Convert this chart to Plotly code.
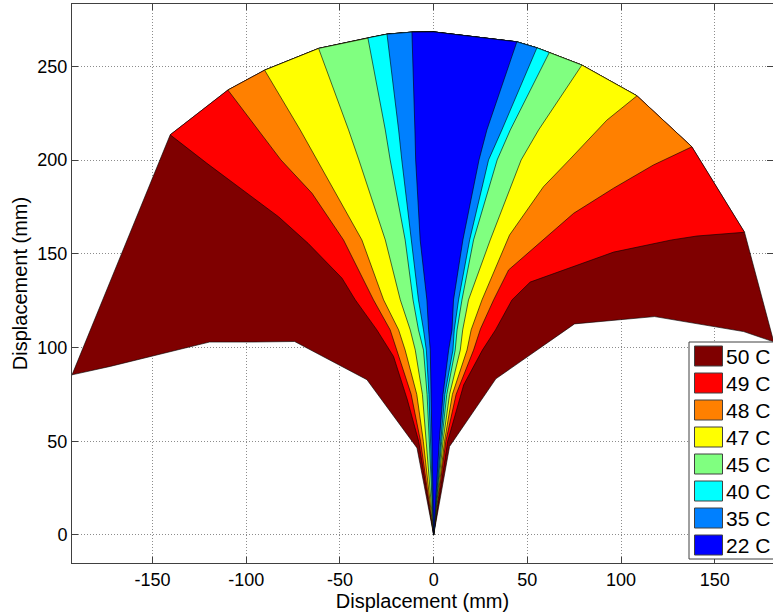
import plotly.graph_objects as go

# ---------------- data ----------------
levels = ["50 C", "49 C", "48 C", "47 C", "45 C", "40 C", "35 C", "22 C"]
colors = ["#7F0000", "#FF0000", "#FF8000", "#FFFF00", "#80FF80", "#00FFFF", "#0080FF", "#0000FF"]

# outer lower boundary of the whole fan
outer_left_x = [0, -8.9, -35.6, -74.2, -97.0, -119.6, -172.6, -193.0]
outer_left_y = [0, 46.4, 82.8, 103.2, 102.9, 102.9, 89.9, 85.4]
outer_right_x = [181.5, 165.4, 117.9, 75.2, 33.2, 8.5, 0]
outer_right_y = [103.0, 108.5, 116.5, 112.6, 83.3, 47.2, 0]
apex_x = 0.0
apex_y = 268.4

# left-side level boundaries (from the outer arc down to the origin)
L1_x = [-140.6, -121.0, -102.3, -82.8, -67.0, -48.9, -41.8, -30.3, -21.4, -14.0, -8.0, 0]
L1_y = [213.5, 198.3, 184.1, 169.8, 155.6, 137.0, 125.4, 109.4, 95.2, 72.0, 50.0, 0]
L2_x = [-109.8, -81.5, -64.9, -48.1, -42.7, -32.1, -23.2, -19.6, -12.0, -7.0, 0]
L2_y = [237.4, 200.1, 182.3, 157.4, 146.7, 125.4, 109.4, 98.6, 75.0, 50.0, 0]
L3_x = [-90.2, -71.2, -62.3, -38.3, -26.7, -18.7, -15.2, -9.0, -5.5, 0]
L3_y = [248.0, 216.1, 200.1, 157.4, 125.4, 109.4, 98.6, 75.0, 50.0, 0]
L4_x = [-61.4, -45.4, -39.9, -25.8, -17.8, -12.5, -9.8, -6.0, -4.0, 0]
L4_y = [259.6, 216.1, 200.1, 157.4, 125.4, 109.4, 98.6, 75.0, 50.0, 0]
L5_x = [-35.1, -25.8, -23.2, -15.2, -11.0, -8.1, -5.4, -3.5, -2.5, 0]
L5_y = [265.2, 216.1, 200.1, 157.4, 125.4, 109.4, 98.6, 75.0, 50.0, 0]
L6_x = [-24.9, -18.7, -17.0, -12.0, -8.1, -5.4, -3.9, -2.5, -1.8, 0]
L6_y = [267.2, 216.1, 200.1, 157.4, 125.4, 109.4, 98.6, 75.0, 50.0, 0]
L7_x = [-11.6, -10.0, -9.6, -7.2, -3.6, -2.7, -1.8, -1.2, -0.8, 0]
L7_y = [268.3, 216.1, 200.1, 157.4, 125.4, 109.4, 98.6, 75.0, 50.0, 0]

# right-side level boundaries (from the outer arc down to the origin)
R1_x = [165.9, 140.5, 127.0, 96.0, 51.5, 41.8, 33.0, 26.0, 16.0, 7.5, 0]
R1_y = [161.5, 159.5, 157.4, 150.9, 134.9, 125.4, 109.4, 98.6, 80.0, 50.0, 0]
R2_x = [137.8, 117.3, 96.0, 74.7, 58.6, 40.0, 32.0, 25.0, 21.3, 12.0, 6.5, 0]
R2_y = [207.1, 197.4, 185.0, 171.6, 157.4, 141.4, 125.4, 110.0, 98.6, 75.0, 50.0, 0]
R3_x = [108.5, 92.4, 72.4, 58.6, 40.5, 25.8, 20.0, 17.8, 10.0, 5.8, 0]
R3_y = [234.3, 221.3, 200.1, 185.8, 160.0, 125.4, 109.4, 98.6, 75.0, 50.0, 0]
R4_x = [79.1, 56.0, 46.7, 30.2, 18.6, 15.5, 14.2, 8.5, 5.0, 0]
R4_y = [250.7, 216.1, 200.1, 157.4, 125.4, 109.4, 98.6, 75.0, 50.0, 0]
R5_x = [61.7, 40.9, 33.9, 21.3, 15.1, 12.5, 11.5, 7.0, 4.3, 0]
R5_y = [257.4, 216.1, 200.1, 157.4, 125.4, 109.4, 98.6, 75.0, 50.0, 0]
R6_x = [55.1, 36.4, 29.3, 19.2, 13.3, 11.0, 10.3, 6.0, 3.8, 0]
R6_y = [259.9, 216.1, 200.1, 157.4, 125.4, 109.4, 98.6, 75.0, 50.0, 0]
R7_x = [44.4, 28.4, 24.2, 15.6, 10.6, 9.8, 8.0, 5.0, 3.0, 0]
R7_y = [263.1, 216.1, 200.1, 157.4, 125.4, 109.4, 98.6, 75.0, 50.0, 0]

x_ticks = [-150, -100, -50, 0, 50, 100, 150]
x_ticktext = ["-150", "-100", "-50", "0", "50", "100", "150"]
y_ticks = [0, 50, 100, 150, 200, 250]
y_ticktext = ["0", "50", "100", "150", "200", "250"]

# ---------------- build polygons ----------------
LX = [L1_x, L2_x, L3_x, L4_x, L5_x, L6_x, L7_x]
LY = [L1_y, L2_y, L3_y, L4_y, L5_y, L6_y, L7_y]
RX = [R1_x, R2_x, R3_x, R4_x, R5_x, R6_x, R7_x]
RY = [R1_y, R2_y, R3_y, R4_y, R5_y, R6_y, R7_y]


def arc_between(k):
    """outer-arc vertices strictly between left boundary k and right boundary k"""
    ax = [LX[j][0] for j in range(k + 1, 7)] + [apex_x] + [RX[j][0] for j in range(6, k, -1)]
    ay = [LY[j][0] for j in range(k + 1, 7)] + [apex_y] + [RY[j][0] for j in range(6, k, -1)]
    return ax, ay


polys = []
# whole shape (lowest level)
ax, ay = arc_between(-1)
px = outer_left_x + ax + outer_right_x
py = outer_left_y + ay + outer_right_y
polys.append((px, py))
for k in range(7):
    ax, ay = arc_between(k)
    px = LX[k][::-1] + ax + RX[k]
    py = LY[k][::-1] + ay + RY[k]
    polys.append((px, py))

fig = go.Figure()
for i, (px, py) in enumerate(polys):
    fig.add_trace(go.Scatter(
        x=px, y=py, mode="lines", fill="toself", fillcolor=colors[i],
        line=dict(color="black", width=0.6), name=levels[i],
        showlegend=False, hoverinfo="name"))

FONT = "Liberation Sans, Arial, Helvetica, sans-serif"

# ---------------- custom legend (MATLAB style) ----------------
W, H = 773, 614
ML, MR, MT, MB = 72, 0, 4, 51
PW, PH = W - ML - MR, H - MT - MB


def xp(pxv):
    return (pxv - ML) / PW


def yp(pyv):
    return (H - MB - pyv) / PH


shapes = [dict(type="rect", xref="paper", yref="paper",
               x0=xp(689), x1=xp(776), y0=yp(559), y1=yp(342),
               line=dict(color="#404040", width=1), fillcolor="white", layer="above")]
annotations = []
for i, lab in enumerate(levels):
    top = 346 + 27 * i
    shapes.append(dict(type="rect", xref="paper", yref="paper",
                       x0=xp(694.5), x1=xp(722.5), y0=yp(top + 20), y1=yp(top),
                       line=dict(color="#404040", width=1), fillcolor=colors[i], layer="above"))
    annotations.append(dict(xref="paper", yref="paper", x=xp(724), y=yp(top + 10),
                            text=lab, showarrow=False, xanchor="left", yanchor="middle",
                            font=dict(family=FONT, size=21, color="black")))

axis_common = dict(
    showgrid=True, gridcolor="#8C8C8C", griddash="1px,2px", gridwidth=1,
    zeroline=False, showline=True, linecolor="#404040", linewidth=1,
    mirror="ticks", ticks="inside", ticklen=6, tickcolor="#404040",
    tickfont=dict(family=FONT, size=18, color="black"),
)

fig.update_layout(
    width=W, height=H,
    margin=dict(l=ML, r=MR, t=MT, b=MB, autoexpand=False),
    paper_bgcolor="white", plot_bgcolor="white",
    showlegend=False,
    xaxis=dict(range=[-193, 181.1], tickvals=x_ticks, ticktext=x_ticktext,
               title=dict(text="Displacement (mm)", font=dict(family=FONT, size=20, color="black"),
                          standoff=3),
               **axis_common),
    yaxis=dict(range=[-15, 283.3], tickvals=y_ticks, ticktext=y_ticktext,
               title=dict(text="Displacement (mm)", font=dict(family=FONT, size=20, color="black"),
                          standoff=4),
               **axis_common),
    shapes=shapes, annotations=annotations,
)

fig.write_html("out.html")
